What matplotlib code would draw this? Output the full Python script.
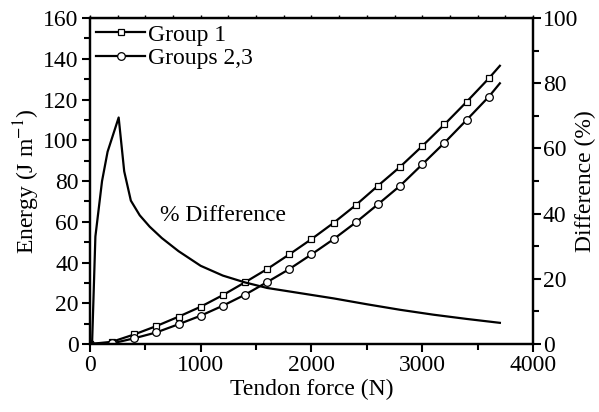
import numpy as np
import matplotlib
matplotlib.use('Agg')
import matplotlib.pyplot as plt
from matplotlib.ticker import MultipleLocator

plt.rcParams['font.family'] = ['Liberation Serif', 'DejaVu Serif']
plt.rcParams['mathtext.fontset'] = 'stix'

# energy curves (J/m) vs tendon force (N)
force = [0, 200, 400, 600, 800, 1000, 1200, 1400, 1600, 1800, 2000, 2200, 2400,
         2600, 2800, 3000, 3200, 3400, 3600, 3700]
group1 = [0, 1.1, 4.7, 8.8, 13.4, 18.3, 24.0, 30.3, 36.8, 44.0, 51.5, 59.5, 68.2,
          77.7, 87.0, 97.2, 107.8, 118.9, 130.4, 136.6]
group23 = [0, 0.3, 2.8, 5.7, 9.7, 13.9, 18.8, 24.2, 30.4, 36.8, 44.0, 51.5, 59.7,
           68.6, 77.7, 88.2, 98.8, 110.0, 121.4, 128.0]

# percentage difference (right axis)
force_diff = [20, 50, 110, 160, 260, 310, 370, 450, 540, 650, 800, 1000, 1200,
              1400, 1600, 1900, 2200, 2500, 2800, 3100, 3400, 3700]
diff = [0, 33, 50, 59, 69.5, 53, 44, 39.5, 36, 32.5, 28.5, 24, 21,
        18.9, 17.2, 15.6, 14, 12.2, 10.5, 9, 7.7, 6.5]

fs = 17
fig = plt.figure(figsize=(5.99, 4.12), dpi=100)
ax = fig.add_axes([0.150, 0.165, 0.740, 0.791])

ax.plot(force, group1, color='black', lw=1.6, marker='s', ms=5,
        mfc='white', mec='black', mew=0.9, markevery=slice(0, -1), label='Group 1')
ax.plot(force, group23, color='black', lw=1.6, marker='o', ms=5.5,
        mfc='white', mec='black', mew=0.9, markevery=slice(0, -1), label='Groups 2,3')

ax.set_xlim(0, 4000)
ax.set_ylim(0, 160)
ax.xaxis.set_major_locator(MultipleLocator(1000))
ax.xaxis.set_minor_locator(MultipleLocator(500))
ax.yaxis.set_major_locator(MultipleLocator(20))
ax.yaxis.set_minor_locator(MultipleLocator(10))
ax.tick_params(which='major', direction='out', length=6, width=1.5, labelsize=fs, pad=2)
ax.tick_params(which='minor', direction='out', length=4, width=1.5)
for s in ax.spines.values():
    s.set_linewidth(1.6)

ax.set_xlabel('Tendon force (N)', fontsize=fs, labelpad=2)
ax.set_ylabel('Energy (J m$^{-1}$)', fontsize=fs, labelpad=1)

top = ax.secondary_xaxis('top')
top.set_xticks(np.arange(0, 4001, 250))
top.tick_params(direction='out', length=2, width=1, labeltop=False)

ax2 = ax.twinx()
ax2.plot(force_diff, diff, color='black', lw=1.6)
ax2.set_ylim(0, 100)
ax2.yaxis.set_major_locator(MultipleLocator(20))
ax2.yaxis.set_minor_locator(MultipleLocator(10))
ax2.tick_params(which='major', direction='out', length=6, width=1.5, labelsize=fs, pad=1)
ax2.tick_params(which='minor', direction='out', length=4, width=1.5)
ax2.set_ylabel('Difference (%)', fontsize=fs)
ax2.yaxis.set_label_coords(1.095, 0.5)
for s in ax2.spines.values():
    s.set_linewidth(1.6)

ax.text(630, 63, '% Difference', fontsize=fs, va='center')

ax.legend(loc='upper left', bbox_to_anchor=(0.0, 1.0), frameon=False, fontsize=fs,
          handlelength=2.1, handletextpad=0.1, labelspacing=0.1, borderpad=0.05,
          borderaxespad=0.2)

fig.savefig('out.png', dpi=100)
